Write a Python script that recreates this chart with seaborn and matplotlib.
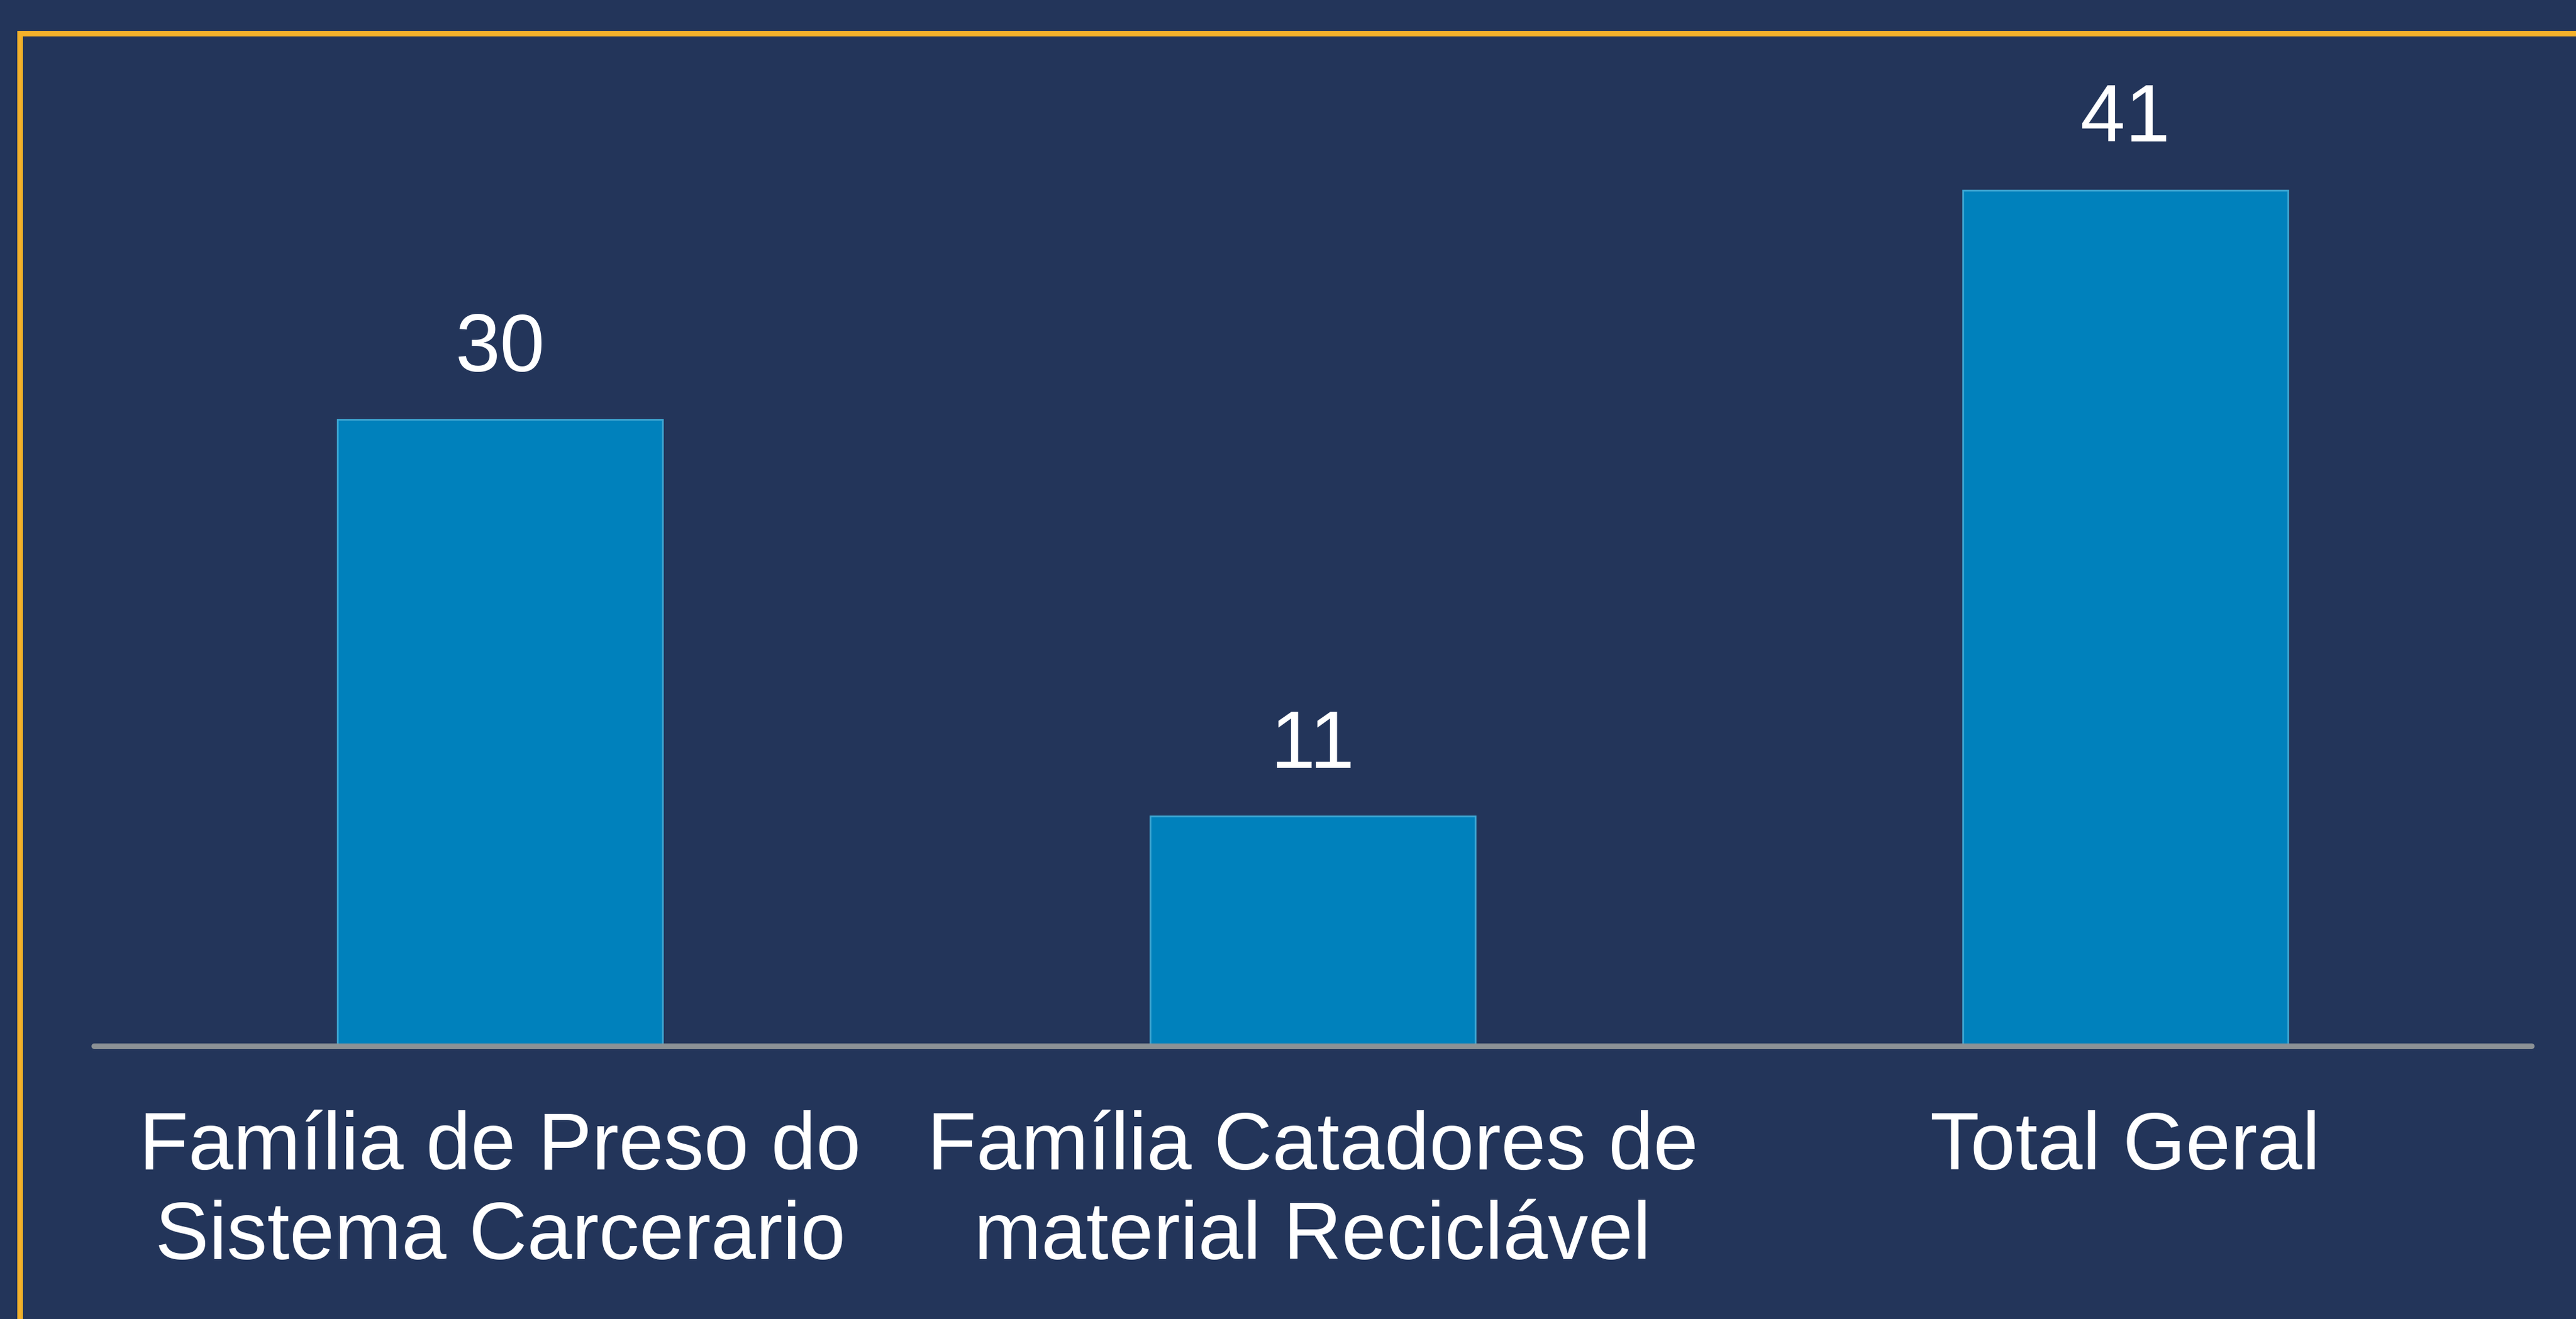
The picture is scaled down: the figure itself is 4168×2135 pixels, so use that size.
import numpy as np
import pandas as pd
import seaborn as sns
import matplotlib.pyplot as plt
from matplotlib.patches import Rectangle

# Data
categories = ['Família de Preso do\nSistema Carcerario',
              'Família Catadores de\nmaterial Reciclável',
              'Total Geral']
values = [30, 11, 41]

bg_color = '#23355a'
bar_color = '#0081bc'
bar_edge = '#3ea6d2'
axis_color = '#8c9296'
frame_color = '#f4b12a'

sns.set_theme(style='white')
plt.rcParams['font.family'] = ['Liberation Sans', 'DejaVu Sans']

df = pd.DataFrame({'categoria': categories, 'total': values})

fig = plt.figure(figsize=(41.68, 21.35), dpi=100, facecolor=bg_color)
ax = fig.add_axes([152 / 4168, 1 - 1693 / 2135, 3944 / 4168, 1622 / 2135])
ax.set_facecolor('none')

sns.barplot(data=df, x='categoria', y='total', color=bar_color, width=0.4,
            saturation=1, edgecolor=bar_edge, linewidth=2, ax=ax)

ax.set_xlim(-0.5, 2.5)
ax.set_ylim(0, 48)
ax.set_xlabel('')
ax.set_ylabel('')
ax.set_yticks([])

for side in ['top', 'right', 'left']:
    ax.spines[side].set_visible(False)
ax.spines['bottom'].set_color(axis_color)
ax.spines['bottom'].set_linewidth(6.5)
ax.spines['bottom'].set_capstyle('round')

ax.tick_params(axis='x', length=0, pad=75, labelsize=94, labelcolor='white')
for lbl in ax.get_xticklabels():
    lbl.set_linespacing(1.23)

ax.bar_label(ax.containers[0], labels=[str(v) for v in values],
             padding=37, fontsize=94, color='white')

# yellow slide frame (only top and left edges are visible)
fig.patches.append(Rectangle((32 / 4168, -0.2), 1.5, 1.2 - 54 / 2135,
                             transform=fig.transFigure, fill=False,
                             edgecolor=frame_color, linewidth=6.5, clip_on=False))

plt.savefig('out.png', dpi=100, facecolor=bg_color)
